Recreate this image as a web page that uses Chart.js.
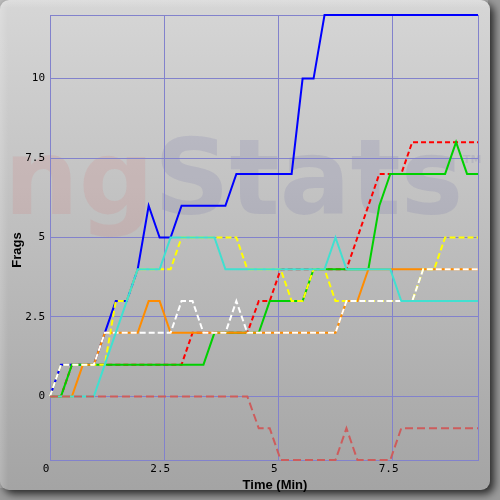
<!DOCTYPE html>
<html>
<head>
<meta charset="utf-8">
<title>Frags</title>
<script src="https://cdn.jsdelivr.net/npm/chart.js@4.4.1/dist/chart.umd.min.js"></script>
<style>
  html, body { margin: 0; padding: 0; background: #9a9a9a; }
  #wrap { width: 500px; height: 500px; }
</style>
</head>
<body>
<div id="wrap"><canvas id="fragChart" width="500" height="500"></canvas></div>
<script>
// Tiempo (min) de cada muestra
const times = [0, 0.24, 0.48, 0.72, 0.96, 1.2, 1.44, 1.68, 1.92, 2.16,
  2.4, 2.64, 2.88, 3.12, 3.36, 3.6, 3.84, 4.08, 4.32, 4.57,
  4.81, 5.05, 5.29, 5.53, 5.77, 6.01, 6.25, 6.49, 6.73, 6.97,
  7.21, 7.45, 7.69, 7.93, 8.17, 8.41, 8.65, 8.89, 9.13, 9.37];

// Frags por jugador
const fragsBlue   = [0,1,1,1,1,2,3,3,4,6,5,5,6,6,6,6,6,7,7,7,7,7,7,10,10,12,12,12,12,12,12,12,12,12,12,12,12,12,12,12];
const fragsRed    = [0,0,1,1,1,1,1,1,1,1,1,1,1,2,2,2,2,2,2,3,3,4,4,4,4,4,4,4,5,6,7,7,7,8,8,8,8,8,8,8];
const fragsGreen  = [0,0,1,1,1,1,1,1,1,1,1,1,1,1,1,2,2,2,2,2,3,3,3,3,4,4,4,4,4,4,6,7,7,7,7,7,7,8,7,7];
const fragsYellow = [0,1,1,1,1,1,3,3,4,4,4,4,5,5,5,5,5,5,4,4,4,4,3,3,4,4,3,3,3,3,3,3,3,3,4,4,5,5,5,5];
const fragsCyan   = [0,0,0,0,0,1,2,3,4,4,4,5,5,5,5,5,4,4,4,4,4,4,4,4,4,4,5,4,4,4,4,4,3,3,3,3,3,3,3,3];
const fragsOrange = [0,0,0,1,1,2,2,2,2,3,3,2,2,2,2,2,2,2,2,2,2,2,2,2,2,2,2,3,3,4,4,4,4,4,4,4,4,4,4,4];
const fragsWhite  = [0,1,1,1,1,2,2,2,2,2,2,2,3,3,2,2,2,3,2,2,2,2,2,2,2,2,2,3,3,3,3,3,3,3,4,4,4,4,4,4];
const fragsPink   = [0,0,0,0,0,0,0,0,0,0,0,0,0,0,0,0,0,0,0,-1,-1,-2,-2,-2,-2,-2,-2,-1,-2,-2,-2,-2,-1,-1,-1,-1,-1,-1,-1,-1];

const xTickValues = [0, 2.5, 5, 7.5];
const yTickValues = [0, 2.5, 5, 7.5, 10];

const gridColor = '#8282cc';
const tickFont = { family: '"DejaVu Sans Mono", monospace', size: 11 };

function toPoints(values) {
  return values.map((v, i) => ({ x: times[i], y: v }));
}

function serie(label, values, color, dash) {
  return {
    label: label,
    data: toPoints(values),
    borderColor: color,
    backgroundColor: color,
    borderWidth: 2,
    borderDash: dash || [],
    pointRadius: 0,
    pointHoverRadius: 0,
    tension: 0,
    fill: false,
    clip: 4
  };
}

// Fondo con marco y marca de agua
const fondoPlugin = {
  id: 'fondo',
  beforeDraw(chart) {
    const ctx = chart.ctx;
    ctx.save();
    ctx.fillStyle = '#9a9a9a';
    ctx.fillRect(0, 0, 500, 500);

    const grad = ctx.createLinearGradient(0, 0, 0, 490);
    grad.addColorStop(0, '#d6d6d6');
    grad.addColorStop(1, '#a4a4a4');
    ctx.shadowColor = 'rgba(0,0,0,0.75)';
    ctx.shadowBlur = 8;
    ctx.shadowOffsetX = 4;
    ctx.shadowOffsetY = 4;
    ctx.fillStyle = grad;
    ctx.beginPath();
    ctx.roundRect(0, 0, 490, 490, 9);
    ctx.fill();
    ctx.shadowColor = 'transparent';

    // brillo en los bordes
    const gl = ctx.createLinearGradient(0, 0, 8, 0);
    gl.addColorStop(0, 'rgba(255,255,255,0.18)');
    gl.addColorStop(1, 'rgba(255,255,255,0)');
    ctx.fillStyle = gl;
    ctx.fillRect(0, 0, 8, 488);
    const gt = ctx.createLinearGradient(0, 0, 0, 8);
    gt.addColorStop(0, 'rgba(255,255,255,0.2)');
    gt.addColorStop(1, 'rgba(255,255,255,0)');
    ctx.fillStyle = gt;
    ctx.fillRect(0, 0, 488, 8);

    // marca de agua
    ctx.font = 'bold 105px "DejaVu Sans"';
    ctx.textBaseline = 'alphabetic';
    ctx.fillStyle = 'rgba(215,105,105,0.15)';
    ctx.fillText('ng', 4, 214);
    const w = ctx.measureText('ng').width;
    ctx.fillStyle = 'rgba(105,105,165,0.17)';
    ctx.fillText('Stats', 4 + w, 214);
    ctx.font = 'bold 11px "DejaVu Sans"';
    ctx.fillText('TM', 463, 163);
    ctx.restore();
  },
  beforeDatasetsDraw(chart) {
    const a = chart.chartArea;
    const ctx = chart.ctx;
    ctx.save();
    ctx.strokeStyle = gridColor;
    ctx.lineWidth = 1;
    ctx.strokeRect(Math.round(a.left) + 0.5, Math.round(a.top) + 0.5,
      Math.round(a.right - a.left), Math.round(a.bottom - a.top));
    ctx.restore();
  },
  afterDraw(chart) {
    const ctx = chart.ctx;
    ctx.save();
    ctx.fillStyle = '#000';
    ctx.font = 'bold 13px "Liberation Sans", Arial, sans-serif';
    ctx.textAlign = 'center';
    ctx.textBaseline = 'middle';
    ctx.fillText('Time (Min)', 275, 485);
    ctx.translate(17, 250);
    ctx.rotate(-Math.PI / 2);
    ctx.fillText('Frags', 0, 0);
    ctx.restore();
  }
};

const ctx = document.getElementById('fragChart').getContext('2d');
const fragChart = new Chart(ctx, {
  type: 'line',
  data: {
    // el primero se dibuja encima
    datasets: [
      serie('Pink', fragsPink, '#cd5c5c', [8, 4]),
      serie('Cyan', fragsCyan, '#40e0d0'),
      serie('White', fragsWhite, '#ffffff', [6, 3]),
      serie('Yellow', fragsYellow, '#ffff00', [6, 3]),
      serie('Orange', fragsOrange, '#ff8c00'),
      serie('Green', fragsGreen, '#00d000'),
      serie('Blue', fragsBlue, '#0000ff'),
      serie('Red', fragsRed, '#ff0000', [5, 3])
    ]
  },
  options: {
    responsive: false,
    animation: false,
    layout: { padding: { left: 0, top: 15, right: 22, bottom: 0 } },
    plugins: {
      legend: { display: false },
      tooltip: { enabled: false }
    },
    scales: {
      x: {
        type: 'linear',
        min: 0,
        max: 9.37,
        afterBuildTicks: axis => { axis.ticks = xTickValues.map(v => ({ value: v })); },
        afterFit: axis => { axis.height = 40; },
        grid: { color: gridColor, lineWidth: 1, drawTicks: false },
        border: { display: false },
        ticks: {
          color: '#000',
          font: tickFont,
          padding: 3,
          labelOffset: -4,
          autoSkip: false,
          maxRotation: 0,
          callback: v => String(v)
        }
      },
      y: {
        type: 'linear',
        min: -2,
        max: 12,
        afterBuildTicks: axis => { axis.ticks = yTickValues.map(v => ({ value: v })); },
        afterFit: axis => { axis.width = 50; },
        grid: { color: gridColor, lineWidth: 1, drawTicks: false },
        border: { display: false },
        ticks: {
          color: '#000',
          font: tickFont,
          padding: 5,
          autoSkip: false,
          callback: v => String(v)
        }
      }
    }
  },
  plugins: [fondoPlugin]
});
</script>
</body>
</html>
